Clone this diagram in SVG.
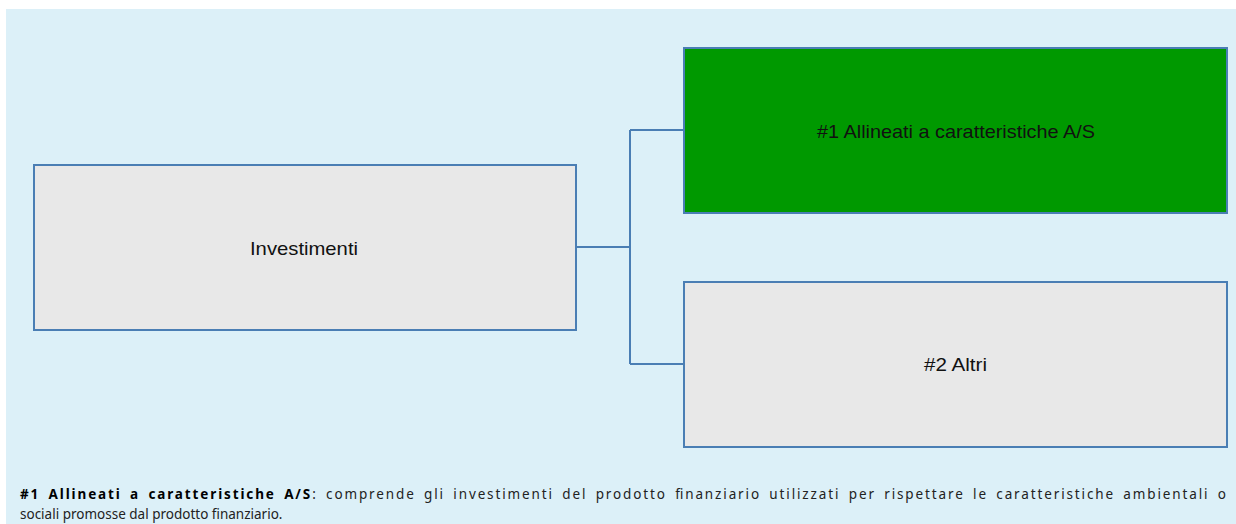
<svg xmlns="http://www.w3.org/2000/svg" width="1236" height="524" viewBox="0 0 1236 524">
<style>
.box{stroke:#4a7eb4;stroke-width:2}
.grey{fill:#e8e8e8}
.green{fill:#009900}
.lbl{font-family:"Liberation Sans",Arial,sans-serif;font-size:19px;fill:#111;text-anchor:middle}
.note{font-family:"Noto Sans","Liberation Sans",sans-serif;font-size:13.5px;fill:#222}
.conn{fill:none;stroke:#4a7eb4;stroke-width:2}
</style>
<rect x="0" y="0" width="1236" height="524" fill="#ffffff"/>
<rect x="6" y="9" width="1230" height="515" fill="#dcf0f8"/>
<g id="connectors">
<path class="conn" d="M576 247 H630 M630 130 V364 M630 130 H684 M630 364 H684"/>
</g>
<g id="node-investimenti">
<rect class="box grey" x="34" y="165" width="542" height="165"/>
<text class="lbl" x="304" y="255" textLength="108" lengthAdjust="spacingAndGlyphs">Investimenti</text>
</g>
<g id="node-allineati">
<rect class="box green" x="684" y="48" width="543" height="165"/>
<text class="lbl" x="956" y="138" textLength="278" lengthAdjust="spacingAndGlyphs">#1 Allineati a caratteristiche A/S</text>
</g>
<g id="node-altri">
<rect class="box grey" x="684" y="282" width="543" height="165"/>
<text class="lbl" x="955.5" y="371" textLength="63" lengthAdjust="spacingAndGlyphs">#2 Altri</text>
</g>
<g id="note">
<text class="note" x="20" y="499" word-spacing="3" textLength="1206" lengthAdjust="spacing"><tspan font-weight="bold" fill="#000">#1 Allineati a caratteristiche A/S</tspan>: comprende gli investimenti del prodotto finanziario utilizzati per rispettare le caratteristiche ambientali o</text>
<text class="note" x="20" y="519">sociali promosse dal prodotto finanziario.</text>
</g>
</svg>
